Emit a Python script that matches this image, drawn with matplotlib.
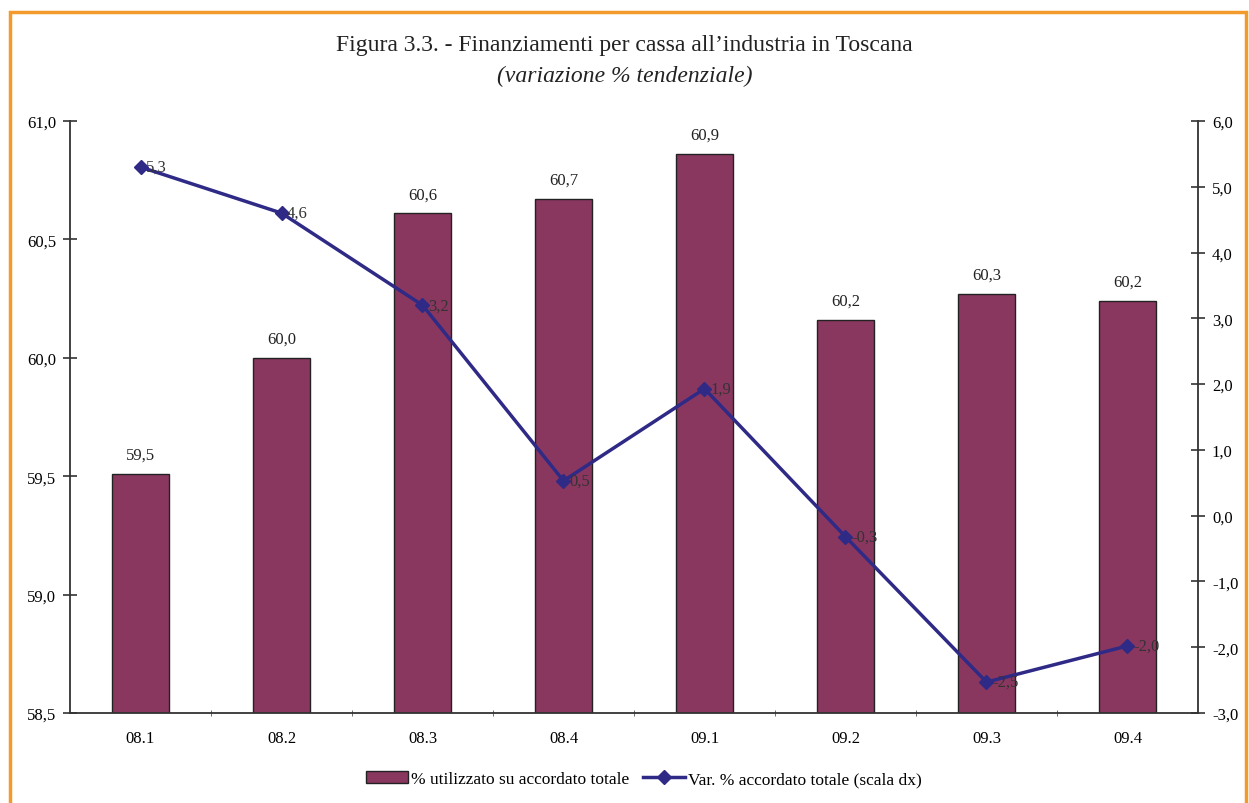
import matplotlib
matplotlib.use("Agg")
import matplotlib.pyplot as plt
from matplotlib.patches import Rectangle
from matplotlib.lines import Line2D
from matplotlib.ticker import FixedLocator
import numpy as np

categories = ["08.1", "08.2", "08.3", "08.4", "09.1", "09.2", "09.3", "09.4"]
utilizzato = [59.51, 60.00, 60.61, 60.67, 60.86, 60.16, 60.27, 60.24]
var_accordato = [5.30, 4.60, 3.20, 0.53, 1.93, -0.32, -2.53, -1.98]
left_ticks = [58.5, 59.0, 59.5, 60.0, 60.5, 61.0]
right_ticks = [-3, -2, -1, 0, 1, 2, 3, 4, 5, 6]

plt.rcParams['font.family'] = ['Liberation Serif', 'DejaVu Serif']

W, H = 1249, 804
fig = plt.figure(figsize=(W / 100, H / 100), dpi=100)

# orange frame
fig.patches.append(Rectangle((10 / W, -0.05), (1246 - 10) / W, (H - 13) / H + 0.05,
                             transform=fig.transFigure, fill=False,
                             edgecolor="#F39A2C", linewidth=2.5))

ax = fig.add_axes([70 / W, 1 - 714 / H, (1198 - 70) / W, (714 - 122) / H])
x = np.arange(len(categories))
bar_color = "#8A3760"
line_color = "#2F2A86"

ax.bar(x, [v - 58.5 for v in utilizzato], bottom=58.5, width=0.40,
       color=bar_color, edgecolor="#222222", linewidth=1.0, zorder=2)
ax.set_ylim(58.5, 61.0)
ax.set_xlim(-0.5, len(categories) - 0.5)
ax.yaxis.set_major_locator(FixedLocator(left_ticks))
ax.set_yticklabels([f"{t:.1f}".replace(".", ",") for t in left_ticks])
ax.set_xticks(x)
ax.set_xticklabels(categories)
ax.xaxis.set_minor_locator(FixedLocator(np.arange(0.5, len(categories) - 0.5, 1)))
ax.tick_params(axis="x", which="major", length=0, pad=12, labelsize=12)
ax.tick_params(axis="x", which="minor", length=4, direction="inout", color="#555555")
ax.tick_params(axis="y", length=10, direction="inout", width=1.2, labelsize=12, pad=5,
               color="#333333")
for s in ["top", "right"]:
    ax.spines[s].set_visible(False)
ax.spines["left"].set_color("#333333")
ax.spines["left"].set_linewidth(1.3)
ax.spines["bottom"].set_color("#333333")
ax.spines["bottom"].set_linewidth(1.3)

for xi, v in zip(x, utilizzato):
    ax.annotate(f"{v:.1f}".replace(".", ","), (xi, v), xytext=(0, 8),
                textcoords="offset points", ha="center", va="bottom", fontsize=12,
                color="#222222")

ax2 = ax.twinx()
ax2.plot(x, var_accordato, color=line_color, linewidth=2.5, marker="D",
         markersize=7, markerfacecolor=line_color, markeredgecolor=line_color, zorder=3)
ax2.set_ylim(-3, 6)
ax2.yaxis.set_major_locator(FixedLocator(right_ticks))
ax2.set_yticklabels([f"{t:.1f}".replace(".", ",") for t in right_ticks])
ax2.tick_params(axis="y", length=10, direction="inout", width=1.2, labelsize=12, pad=5,
                color="#333333")
for s in ["top", "left", "bottom"]:
    ax2.spines[s].set_visible(False)
ax2.spines["right"].set_color("#333333")
ax2.spines["right"].set_linewidth(1.3)

for xi, v in zip(x, var_accordato):
    ax2.annotate(f"{v:.1f}".replace(".", ","), (xi, v), xytext=(4, 0),
                 textcoords="offset points", ha="left", va="center", fontsize=12,
                 color="#333333")

fig.text(0.5, 1 - 46 / H, "Figura 3.3. - Finanziamenti per cassa all\u2019industria in Toscana",
         ha="center", va="center", fontsize=17, color="#222222")
fig.text(0.5, 1 - 76 / H, "(variazione % tendenziale)", ha="center", va="center",
         fontsize=17, style="italic", color="#222222")

handles = [Rectangle((0, 0), 1, 1, facecolor=bar_color, edgecolor="#222222"),
           Line2D([0], [0], color=line_color, linewidth=2.5, marker="D",
                  markersize=7)]
fig.legend(handles, ["% utilizzato su accordato totale",
                     "Var. % accordato totale (scala dx)"],
           loc="center", bbox_to_anchor=(644 / W, 1 - 780 / H), ncol=2, frameon=False,
           fontsize=12.5, handlelength=2.4, columnspacing=0.8, handletextpad=0.2)

fig.savefig("out.png", dpi=100)
